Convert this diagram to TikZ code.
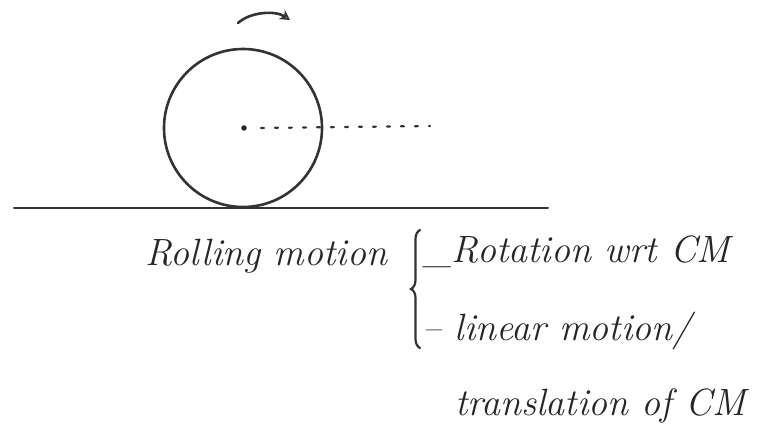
\documentclass[tikz,border=0pt]{standalone}
\usetikzlibrary{decorations.pathreplacing,arrows.meta}
\begin{document}
\begin{tikzpicture}[x=1pt,y=-1pt,
  ink/.style={draw=black!80, line width=2.6pt, line cap=round},
  hand/.style={font=\fontsize{38}{42}\selectfont\itshape, text=black!85, inner sep=0pt, anchor=base west}]
\useasboundingbox (0,0) rectangle (758,433);
% ground
\coordinate (g1) at (14,208);
\coordinate (g2) at (548,208);
\draw[ink, line width=2pt] (g1) -- (g2);
% wheel
\node[ink, circle, minimum size=158pt, inner sep=0pt] (wheel) at (243,128) {};
\node[fill=black!85, circle, inner sep=0pt, minimum size=5.5pt] (cm) at (244,128) {};
\coordinate (dend) at (430,126);
\draw[ink, line width=2.2pt, dash pattern=on 3pt off 11pt] ([xshift=14pt]cm.east) -- (dend);
% rotation arrow
\coordinate (r1) at (238,23);
\coordinate (r2) at (290,20);
\draw[ink, -{Stealth[length=10pt,width=11pt,open]}] (r1) .. controls (250,12) and (275,10) .. (r2);
% texts
\node[hand] (roll) at (145,265) {Rolling motion};
\draw[ink, line width=2.2pt, decorate, decoration={brace, amplitude=9pt}] (420,348) -- (420,230) coordinate (bt);
\node[hand] (rot) at (424,262) {\_Rotation wrt CM};
\node[hand] (lin) at (422,340) {-- linear motion/};
\node[hand] (tr) at (455,415) {translation of CM};
\end{tikzpicture}
\end{document}
